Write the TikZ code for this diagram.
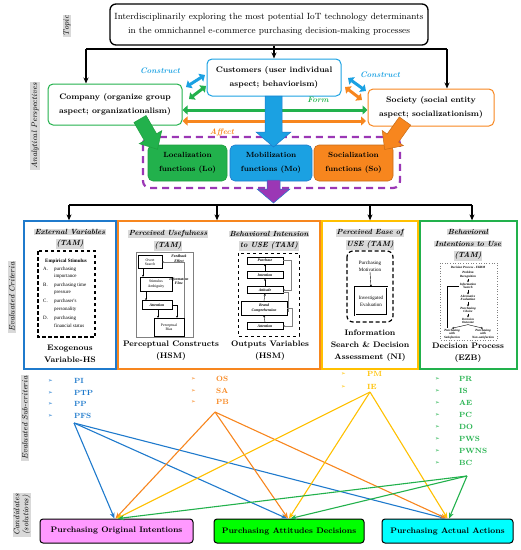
\documentclass[tikz,border=0pt]{standalone}
\usepackage{fontspec}
\newfontfamily\djv{DejaVu Sans}
\newfontfamily\tms{Liberation Serif}
\usetikzlibrary{arrows.meta,calc}
\definecolor{cblue}{HTML}{1BA1E2}
\definecolor{dblue}{HTML}{1F7ACC}
\definecolor{cgreen}{HTML}{22B14C}
\definecolor{dgreen}{HTML}{1E9E3E}
\definecolor{corange}{HTML}{F7861E}
\definecolor{cyellow}{HTML}{FFC000}
\definecolor{cpurple}{HTML}{9B37B5}
\definecolor{cpink}{HTML}{FF99FF}
\definecolor{cgfill}{HTML}{00FF00}
\definecolor{ccyan}{HTML}{00FFFF}
\definecolor{lgray}{HTML}{D9D9D9}
\newcommand\fsz[2]{\fontsize{#1}{#2}\selectfont}
\begin{document}
\begin{tikzpicture}[x=1pt,y=-1pt,
  box/.style={draw, rounded corners=5pt, line width=1pt, align=center, inner sep=0pt, text=black},
  blk/.style={-{Stealth[length=6pt,width=5pt]}, line width=1.1pt},
  sidel/.style={rotate=90, fill=lgray, inner sep=1pt, font=\fsz{8}{9}\itshape, align=center, text=black},
  ttl/.style={fill=lgray, inner sep=0.8pt, font=\fsz{7.5}{9}\bfseries\itshape, text=black},
  lbl/.style={font=\fsz{8}{12}\bfseries, align=center, text=black},
  dbl/.style={line width=3pt, {Triangle[length=5pt,width=9pt]}-{Triangle[length=5pt,width=9pt]}},
  subc/.style={font=\fsz{7.5}{8}\bfseries, anchor=west, inner sep=0pt},
  bul/.style={font=\djv\fsz{5.5}{6}, anchor=west, inner sep=0pt},
  ln/.style={line width=1.1pt, -{Stealth[length=6pt,width=5pt]}},
  tinyt/.style={font=\tms\fsz{3.8}{4.3}, align=center, inner sep=0.5pt, text=black},
  tarr/.style={-{Stealth[length=2pt,width=2pt]}, line width=0.4pt},
  crit/.style={draw, line width=1.3pt, minimum height=148pt, inner sep=0pt},
  cand/.style={draw, rounded corners=3pt, line width=1pt, minimum height=24pt, font=\fsz{8}{9}\bfseries, text=black}
]
\useasboundingbox (0,0) rectangle (521,550);

% ---------- side labels
\node[sidel] at (67,26) {Topic};
\node[sidel] at (35,126) {Analytical Perspectives};
\node[sidel] at (12,297) {Evaluated Criteria};
\node[sidel] at (25,418) {Evaluated Sub-criteria};
\node[sidel] at (22,515) {Candidates\\(solutions)};

% ---------- topic
\node[box, line width=1.3pt, rounded corners=6pt, minimum width=318pt, minimum height=41pt, font=\fsz{9}{14}] (topic) at (269,24.5)
  {Interdisciplinarily exploring the most potential IoT technology determinants\\in the omnichannel e-commerce purchasing decision-making processes};

% ---------- perspectives
\node[box, draw=cblue, minimum width=134pt, minimum height=37pt, font=\fsz{8}{13.5}\bfseries] (cust) at (274,77.5) {Customers (user individual\\aspect; behaviorism)};
\node[box, draw=cgreen, minimum width=134pt, minimum height=41pt, font=\fsz{8}{13.5}\bfseries] (comp) at (115,104.5) {Company (organize group\\aspect; organizationalism)};
\node[box, draw=corange, minimum width=126pt, minimum height=37pt, font=\fsz{8}{13.5}\bfseries] (soc) at (431,107.5) {Society (social entity\\aspect; socializationism)};

\coordinate (tl) at (86,49);
\coordinate (tr) at (447,49);
\draw[line width=1.1pt] (tl) -- (tr);
\draw[blk] (tl) -- (tl |- comp.north);
\draw[blk] (tr) -- (tr |- soc.north);
\draw[blk] (topic.south -| cust.north) -- (cust.north);

\node[font=\fsz{8}{9}\bfseries\itshape, text=cblue] at (160,71) {Construct};
\node[font=\fsz{8}{9}\bfseries\itshape, text=cblue] at (380,75) {Construct};
\node[font=\fsz{8}{9}\bfseries\itshape, text=cgreen] at (318,100) {Form};
\node[font=\fsz{8}{9}\bfseries\itshape, text=corange] at (222,132) {Affect};

\draw[dbl, cblue] (186,87) -- (205,75);
\draw[dbl, cgreen] (189,99) -- (206,86);
\draw[dbl, cblue] (348,78) -- (366,91);
\draw[dbl, corange] (345,87) -- (362,100);
\draw[dbl, cgreen] (comp.east |- 0,110) -- (soc.west |- 0,110);
\draw[dbl, corange] (comp.east |- 0,121) -- (366,121);

% ---------- functions
\draw[cpurple, line width=2.2pt, dash pattern=on 7pt off 5pt, rounded corners=7pt] (143,137) rectangle (400,188);
\node[box, fill=cgreen, draw=dgreen, line width=0.6pt, minimum width=79pt, minimum height=36pt, font=\fsz{7.5}{13.5}\bfseries] (lo) at (187.5,163) {Localization\\functions (Lo)};
\node[box, fill=cblue, draw=dblue, line width=0.6pt, minimum width=82pt, minimum height=36pt, font=\fsz{7.5}{13.5}\bfseries] (mo) at (271,163) {Mobilization\\functions (Mo)};
\node[box, fill=corange, draw=corange!80!black, line width=0.6pt, minimum width=79pt, minimum height=36pt, font=\fsz{7.5}{13.5}\bfseries] (so) at (353.5,163) {Socialization\\functions (So)};

\filldraw[fill=cblue, draw=dblue, line width=0.5pt] (265,96)--(282,96)--(282,132)--(291,132)--(273.5,147)--(256,132)--(265,132)--cycle;
\begin{scope}[shift={(140,119)}, rotate=-60]
\filldraw[fill=cgreen, draw=dgreen, line width=0.5pt] (0,-7)--(21,-7)--(21,-13)--(35,0)--(21,13)--(21,7)--(0,7)--cycle;
\end{scope}
\begin{scope}[shift={(405,121)}, rotate=-125.5]
\filldraw[fill=corange, draw=corange!80!black, line width=0.5pt] (0,-7)--(21,-7)--(21,-13)--(35,0)--(21,13)--(21,7)--(0,7)--cycle;
\end{scope}
\filldraw[fill=cpurple, draw=dblue, line width=0.5pt] (267,180)--(280,180)--(280,189)--(290,189)--(273.5,203)--(257,189)--(267,189)--cycle;

% ---------- criteria boxes
\node[crit, draw=dblue, minimum width=92pt] (cb1) at (70,295) {};
\node[crit, draw=corange, minimum width=202pt] (cb2) at (219,295) {};
\node[crit, draw=cyellow, minimum width=96pt] (cb3) at (370,295) {};
\node[crit, draw=cgreen, minimum width=97pt] (cb4) at (468.5,295) {};

\coordinate (cl) at (69,205);
\coordinate (c2) at (217,205);
\coordinate (c3) at (370,205);
\coordinate (cr) at (472,205);
\draw[line width=1.1pt] (cl) -- (cr);
\draw[blk] (cl) -- (cl |- cb1.north);
\draw[blk] (c2) -- (c2 |- cb2.north);
\draw[blk] (c3) -- (c3 |- cb3.north);
\draw[blk] (cr) -- (cr |- cb4.north);

% blue box
\node[ttl] at (70,232) {External Variables};
\node[ttl] at (70,244) {(TAM)};
\draw[line width=1.2pt, dash pattern=on 3.5pt off 2.5pt] (38,251) rectangle (95,337);
\node[font=\tms\fsz{5}{6}\bfseries, inner sep=0] at (66,261) {Empirical Stimulus};
\begin{scope}[every node/.style={font=\tms\fsz{5}{6}, anchor=west, inner sep=0}]
\node at (43,269) {A.}; \node at (54,269) {purchasing}; \node at (54,276) {importance};
\node at (43,285) {B.}; \node at (54,285) {purchasing time}; \node at (54,293) {pressure};
\node at (43,301) {C.}; \node at (54,301) {purchaser's}; \node at (54,309) {personality};
\node at (43,318) {D.}; \node at (54,318) {purchasing}; \node at (54,326) {financial status};
\end{scope}
\node[lbl] at (70,354) {Exogenous\\Variable-HS};

% orange box
\node[ttl] at (168,234) {Perceived Usefulness};
\node[ttl] at (168,246) {(TAM)};
\node[ttl] at (269,234) {Behavioral Intension};
\node[ttl] at (269,246) {to USE (TAM)};
\draw[gray, line width=0.6pt] (136,252) rectangle (193,337);
\node[draw, tinyt, minimum width=24pt, minimum height=13pt] (os) at (150,262) {Overt\\Search};
\node[draw, tinyt, minimum width=32pt, minimum height=14pt] (sa) at (156,284) {Stimulus\\Ambiguity};
\node[draw, tinyt, minimum width=30pt, minimum height=9pt, font=\tms\fsz{3.8}{4.3}\bfseries\itshape] (att1) at (157,305) {Attention};
\node[draw, tinyt, minimum width=30pt, minimum height=18pt] (pb1) at (169,327) {Perceptual\\Bias};
\node[tinyt, font=\tms\fsz{3.8}{4.3}\bfseries\itshape] at (179,259) {Feedback\\Effect};
\node[tinyt, font=\tms\fsz{3.8}{4.3}\bfseries\itshape] at (179,281) {Information\\Flow};
\draw[tarr] (os.south -| 143,0) -- (sa.north -| 143,0);
\draw[tarr] (sa.south -| 146,0) -- (att1.north -| 146,0);
\draw[tarr] (att1.south -| 158,0) -- (pb1.north -| 158,0);
\draw[tarr, gray] (pb1.north -| 184,0) |- (os.east);
\draw[tarr] (att1.east) -| (pb1.north -| 177,0);

\draw[line width=0.8pt, dashed] (238,253) rectangle (299,336);
\begin{scope}[every node/.style={draw, tinyt, font=\tms\fsz{3.8}{4.3}\bfseries\itshape, minimum width=36pt, minimum height=7pt}]
\node (pu) at (265,260.5) {Purchase};
\node (inn) at (265,275) {Intention};
\node (atd) at (265,290) {Attitude};
\node[minimum width=46pt, minimum height=14pt] (bc) at (264,308) {Brand\\Comprehension};
\node (an) at (265,326) {Attention};
\end{scope}
\draw[tarr] (an.north) -- (bc.south);
\draw[tarr] (bc.north) -- (atd.south);
\draw[tarr] (atd.north) -- (inn.south);
\draw[tarr] (inn.north) -- (pu.south);
\draw[tarr, gray] (pu.east) -- ++(8,0) |- (atd.east);
\draw[tarr, gray] (bc.east) -- ++(5,0) |- (an.east);
\draw[tarr, gray] (atd.east) ++(0,2) -- ++(5,0) |- ([yshift=-3pt]bc.east);

\node[lbl] at (171,351) {Perceptual Constructs\\(HSM)};
\node[lbl] at (270,351) {Outputs Variables\\(HSM)};

% yellow box
\node[ttl] at (370,233) {Perceived Ease of};
\node[ttl] at (370,245) {USE (TAM)};
\draw[line width=1.2pt, dash pattern=on 4pt off 2.5pt, rounded corners=6pt] (347,251) rectangle (393,322);
\node[tinyt, font=\tms\fsz{5}{7}] (pm) at (370,266) {Purchasing\\Motivation};
\node[draw, double, tinyt, font=\tms\fsz{5}{7}, minimum width=32pt, minimum height=28pt] (iev) at (371,301) {Investigated\\Evaluation};
\draw[tarr] (pm.south) -- (iev.north);
\node[lbl] at (370,346) {Information\\Search \& Decision\\Assessment (NI)};

% green box
\node[ttl] at (468,232) {Behavioral};
\node[ttl] at (468,244) {Intentions to Use};
\node[ttl] at (468,256) {(TAM)};
\draw[gray, dotted, line width=0.6pt] (440,263) rectangle (497,340);
\begin{scope}[every node/.style={tinyt, font=\tms\fsz{3.2}{3.6}\bfseries\itshape}]
\node at (468,267) {Decision Process - EKBM};
\node (g1) at (468,275) {Problem\\Recognition};
\node (g2) at (468,286) {Information\\Search};
\node (g3) at (468,298) {Alternative\\Evaluation};
\node (g4) at (468,310) {Purchasing\\Choice};
\node (g5) at (468,321) {Decision\\Outcome};
\node (g6) at (452,334) {Purchasing\\with\\Satisfaction};
\node (g7) at (483,334) {Purchasing\\with\\Non-satisfaction};
\end{scope}
\draw[tarr] (g1) -- (g2); \draw[tarr] (g2) -- (g3); \draw[tarr] (g3) -- (g4); \draw[tarr] (g4) -- (g5);
\draw[tarr] (g5.south) -- (g6.north); \draw[tarr] (g5.south) -- (g7.north);
\draw[line width=0.3pt] (g2.west) -| (g6.north -| 447,0);
\node[lbl] at (468,353) {Decision Process\\(EZB)};

% ---------- sub-criteria
\begin{scope}[text=dblue]
\foreach \t/\y in {PI/381, PTP/393, PP/404, PFS/416} {
  \node[bul] at (48,\y) {➢}; \node[subc] (s\t) at (74,\y) {\t};
}
\end{scope}
\begin{scope}[text=corange]
\foreach \t/\y in {OS/379, SA/391, PB/402} {
  \node[bul] at (191,\y) {➢}; \node[subc] (s\t) at (216,\y) {\t};
}
\end{scope}
\begin{scope}[text=cyellow]
\foreach \t/\y in {PM/374, IE/387} {
  \node[bul] at (341,\y) {➢}; \node[subc] (s\t) at (367,\y) {\t};
}
\end{scope}
\begin{scope}[text=cgreen]
\foreach \t/\y in {PR/379, IS/391, AE/403, PC/415, DO/427, PWS/439, PWNS/451, BC/463} {
  \node[bul] at (435,\y) {➢}; \node[subc] (s\t) at (459,\y) {\t};
}
\end{scope}

% ---------- candidates
\node[cand, fill=cpink, minimum width=153pt] (poi) at (116.5,531) {Purchasing Original Intentions};
\node[cand, fill=cgfill, minimum width=150pt] (pad) at (289,531) {Purchasing Attitudes Decisions};
\node[cand, fill=ccyan, minimum width=131pt] (paa) at (447.5,531) {Purchasing Actual Actions};

\coordinate (ob) at (74,423);
\coordinate (oo) at (215,412);
\coordinate (oy) at (370,392);
\coordinate (og) at (467,476);
\foreach \c/\o/\dx in {dblue/ob/-2, corange/oo/-1, cyellow/oy/0, cgreen/og/1.5} {
  \draw[ln, \c] (\o) -- ([xshift=\dx pt]poi.north);
  \draw[ln, \c] (\o) -- ([xshift=\dx pt]pad.north);
  \draw[ln, \c] (\o) -- ([xshift=\dx pt]paa.north);
}
\end{tikzpicture}
\end{document}
